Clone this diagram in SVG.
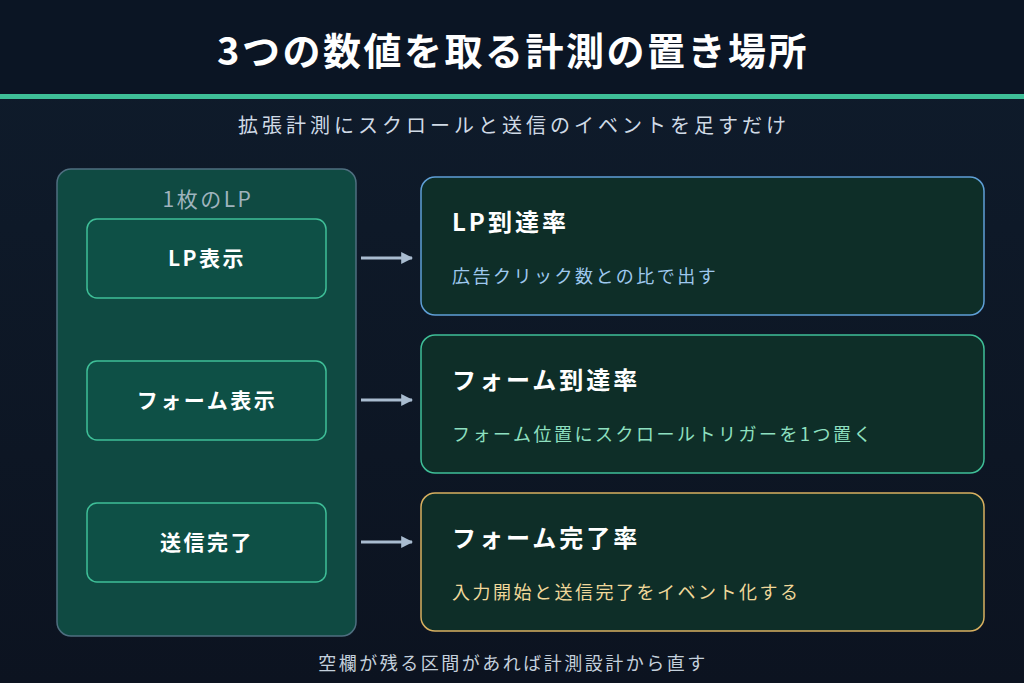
<svg xmlns="http://www.w3.org/2000/svg" width="1024" height="683" viewBox="0 0 1024 683">
<defs>
<linearGradient id="bg" x1="0" y1="0" x2="0" y2="1"><stop offset="0" stop-color="#0f1c2c"/><stop offset="1" stop-color="#0c1320"/></linearGradient>
<marker id="ar" viewBox="0 0 10 10" refX="9" refY="5" markerWidth="4" markerHeight="4" orient="auto"><path d="M0,0L10,5L0,10z" fill="#a9bcd0"/></marker>
<style>
text{font-family:"Noto Sans CJK JP","Noto Sans",sans-serif}
.step{fill:#0e5046;stroke:#3fbf98;stroke-width:1.5}
.st{fill:#fff;font-size:21px;font-weight:bold;text-anchor:middle;letter-spacing:2.5px}
.card{fill:#0e2e28;stroke-width:1.5}
.ct{fill:#fff;font-size:24px;font-weight:bold;letter-spacing:3px}
.cs{font-size:18px;letter-spacing:2.5px}
.con{stroke:#a9bcd0;stroke-width:3;fill:none;marker-end:url(#ar)}
</style>
</defs>
<rect width="1024" height="683" fill="url(#bg)"/>
<rect width="1024" height="95" fill="#0b1524"/>
<rect y="94" width="1024" height="5" fill="#3fbf98"/>
<text x="513" y="65" font-size="38" font-weight="bold" fill="#fff" text-anchor="middle" letter-spacing="2.5">3つの数値を取る計測の置き場所</text>
<text x="514" y="133" font-size="20" fill="#d0dae6" text-anchor="middle" letter-spacing="4">拡張計測にスクロールと送信のイベントを足すだけ</text>
<g id="lp"><rect x="57" y="169" width="299" height="467" rx="14" fill="#0f4a42" stroke="#4f6f80" stroke-width="1.5"/>
<text x="208" y="207" font-size="21" fill="#9fb3bd" text-anchor="middle" letter-spacing="2.5">1枚のLP</text></g>
<g id="s1"><rect class="step" x="87" y="219" width="239" height="79" rx="10"/><text class="st" x="207" y="266">LP表示</text></g>
<g id="s2"><rect class="step" x="87" y="361" width="239" height="79" rx="10"/><text class="st" x="207" y="408">フォーム表示</text></g>
<g id="s3"><rect class="step" x="87" y="503" width="239" height="79" rx="10"/><text class="st" x="207" y="550">送信完了</text></g>
<g id="connectors">
<line class="con" x1="361" y1="258" x2="412" y2="258"/>
<line class="con" x1="361" y1="400" x2="412" y2="400"/>
<line class="con" x1="361" y1="542" x2="412" y2="542"/>
</g>
<g id="c1"><rect class="card" x="421" y="177" width="563" height="138" rx="14" stroke="#5f9fd6"/><text class="ct" x="452" y="231">LP到達率</text><text class="cs" x="452" y="283" fill="#9ec8ee">広告クリック数との比で出す</text></g>
<g id="c2"><rect class="card" x="421" y="335" width="563" height="138" rx="14" stroke="#3fbf98"/><text class="ct" x="452" y="389">フォーム到達率</text><text class="cs" x="452" y="441" fill="#8ee0c0">フォーム位置にスクロールトリガーを1つ置く</text></g>
<g id="c3"><rect class="card" x="421" y="493" width="563" height="138" rx="14" stroke="#d8b060"/><text class="ct" x="452" y="547">フォーム完了率</text><text class="cs" x="452" y="599" fill="#f0d89a">入力開始と送信完了をイベント化する</text></g>
<text x="513" y="670" font-size="18" fill="#c4d0dc" text-anchor="middle" letter-spacing="2.5">空欄が残る区間があれば計測設計から直す</text>
</svg>
